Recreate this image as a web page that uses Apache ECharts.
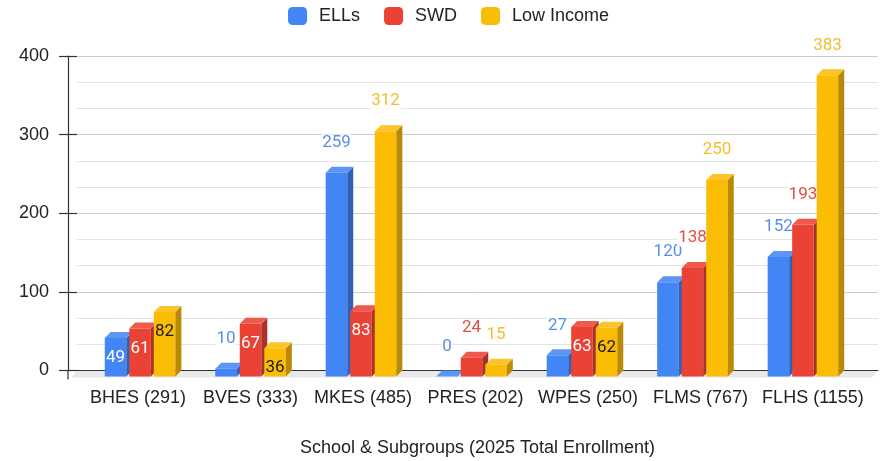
<!DOCTYPE html>
<html>
<head>
<meta charset="utf-8">
<script src="https://cdn.jsdelivr.net/npm/echarts@6/dist/echarts.min.js"></script>
<style>
html,body{margin:0;padding:0;background:#fff;}
#c{width:888px;height:461px;}
</style>
</head>
<body>
<div id="c"></div>
<script>
const categories = ['BHES (291)', 'BVES (333)', 'MKES (485)', 'PRES (202)', 'WPES (250)', 'FLMS (767)', 'FLHS (1155)'];
const seriesNames = ['ELLs', 'SWD', 'Low Income'];
const ells = [49, 10, 259, 0, 27, 120, 152];
const swd = [61, 67, 83, 24, 63, 138, 193];
const lowIncome = [82, 36, 312, 15, 62, 250, 383];
const yMin = 0, yMax = 400, yInterval = 100;

const palette = [
  {front: '#4285F4', top: '#5b96f6', side: '#2f61b5', outLabel: '#5a8ee8', inLabel: '#ffffff'},
  {front: '#EA4335', top: '#ef5a4d', side: '#a9322a', outLabel: '#dd5146', inLabel: '#ffffff'},
  {front: '#FBBC04', top: '#fcc42a', side: '#b88a05', outLabel: '#f1bf2a', inLabel: '#1a1a1a'}
];
const DEPTH = 6;

function makeRender(k) {
  const off = k - 1;
  const col = palette[k];
  return function (params, api) {
    const i = api.value(0), v = api.value(1);
    const band = api.size([1, 0])[0];
    const pitch = band * 0.222, w = band * 0.195, d = DEPTH;
    const p0 = api.coord([i, 0]), pv = api.coord([i, v]);
    const bx = p0[0] + off * pitch;
    const fx = bx - d;
    const y0 = p0[1], yv = pv[1];
    const L = fx - w / 2, R = fx + w / 2;
    const children = [];
    if (y0 - yv > 0.1) {
      children.push({type: 'rect', shape: {x: L, y: yv + d, width: w, height: y0 - yv}, style: {fill: col.front}});
      children.push({type: 'polygon', shape: {points: [[R, yv + d], [R + d, yv], [R + d, y0], [R, y0 + d]]}, style: {fill: col.side}});
    }
    children.push({type: 'polygon', shape: {points: [[L, yv + d], [R, yv + d], [R + d, yv], [L + d, yv]]}, style: {fill: col.top}});
    const inside = v >= 30 && v < 100;
    children.push({
      type: 'text', z2: 10,
      style: {
        text: String(v), x: fx, y: inside ? yv + 26 : yv - 24,
        align: 'center', verticalAlign: 'middle',
        fontFamily: 'Roboto', fontSize: 17,
        fill: inside ? col.inLabel : col.outLabel,
        backgroundColor: inside ? null : 'rgba(255,255,255,0.85)',
        padding: inside ? 0 : [0, 1]
      }
    });
    return {type: 'group', children: children};
  };
}

const allData = [ells, swd, lowIncome];
const chart = echarts.init(document.getElementById('c'), null, {renderer: 'canvas'});
const XMIN = -0.625, XMAX = 6.625;      // bar plane
const LMIN = -0.542, LMAX = 6.578;      // label plane (front of the 3D floor)
const axisFont = 'Liberation Sans, Arial, sans-serif';

chart.setOption({
  animation: false,
  backgroundColor: '#ffffff',
  legend: {
    top: 2, left: 283,
    itemWidth: 19, itemHeight: 18, itemGap: 24,
    icon: 'roundRect',
    textStyle: {fontFamily: axisFont, fontSize: 18, color: '#222', padding: [0, 0, 0, 7]},
    data: seriesNames
  },
  grid: {left: 77, right: 10, top: 56, bottom: 90.5, containLabel: false, outerBoundsMode: 'none'},
  xAxis: [{
    type: 'value', min: XMIN, max: XMAX,
    axisLine: {show: true, onZero: false, lineStyle: {color: '#333', width: 1.2}},
    axisTick: {show: false},
    splitLine: {show: false},
    axisLabel: {show: false}
  }, {
    type: 'value', min: LMIN, max: LMAX, position: 'bottom',
    axisLine: {show: false, onZero: false},
    axisTick: {show: false},
    splitLine: {show: false},
    axisLabel: {
      customValues: categories.map((c, i) => i),
      formatter: v => categories[Math.round(v)] || '',
      fontFamily: axisFont, fontSize: 18, color: '#222', margin: 19
    },
    name: 'School & Subgroups (2025 Total Enrollment)',
    nameLocation: 'middle', nameGap: 69,
    nameTextStyle: {fontFamily: axisFont, fontSize: 18, color: '#222'}
  }],
  yAxis: [{
    type: 'value', min: yMin, max: yMax, interval: yInterval, offset: 9, position: 'left',
    axisLine: {show: true, onZero: false, lineStyle: {color: '#333', width: 1.2}},
    axisTick: {show: true, length: 9, lineStyle: {color: '#333', width: 1.2}},
    axisLabel: {fontFamily: axisFont, fontSize: 18, color: '#222', margin: 19},
    splitLine: {show: true, lineStyle: {color: '#cccccc', width: 1}},
    minorTick: {show: false, splitNumber: 3},
    minorSplitLine: {show: true, lineStyle: {color: '#e3e3e3', width: 1}}
  }, {
    type: 'value', min: yMin, max: yMax, interval: yInterval, offset: 9, position: 'left',
    axisLine: {show: false, onZero: false},
    axisTick: {show: true, inside: true, length: 9, lineStyle: {color: '#333', width: 1.2}},
    axisLabel: {show: false},
    splitLine: {show: false}
  }],
  series: seriesNames.map((name, k) => ({
    type: 'custom', name: name,
    xAxisIndex: 0, yAxisIndex: 0,
    itemStyle: {color: palette[k].front},
    renderItem: makeRender(k),
    encode: {x: 0, y: 1},
    data: allData[k].map((v, i) => [i, v]),
    z: 2 + k
  }))
});

// 3D floor and y-axis extension, computed from the chart's own scales
const a = chart.convertToPixel({xAxisIndex: 0, yAxisIndex: 0}, [XMIN, 0]);
const b = chart.convertToPixel({xAxisIndex: 0, yAxisIndex: 0}, [XMAX, 0]);
chart.setOption({
  graphic: [
    {type: 'polygon', z: -1, silent: true,
     shape: {points: [[a[0], a[1]], [b[0], b[1]], [b[0] - DEPTH, b[1] + DEPTH + 1], [a[0] - DEPTH, a[1] + DEPTH + 1]]},
     style: {fill: '#e9e9e9'}},
    {type: 'line', z: 5, silent: true,
     shape: {x1: a[0] - 9, y1: a[1], x2: a[0] - 9, y2: a[1] + 9},
     style: {stroke: '#333', lineWidth: 1.2}}
  ]
});
</script>
</body>
</html>
